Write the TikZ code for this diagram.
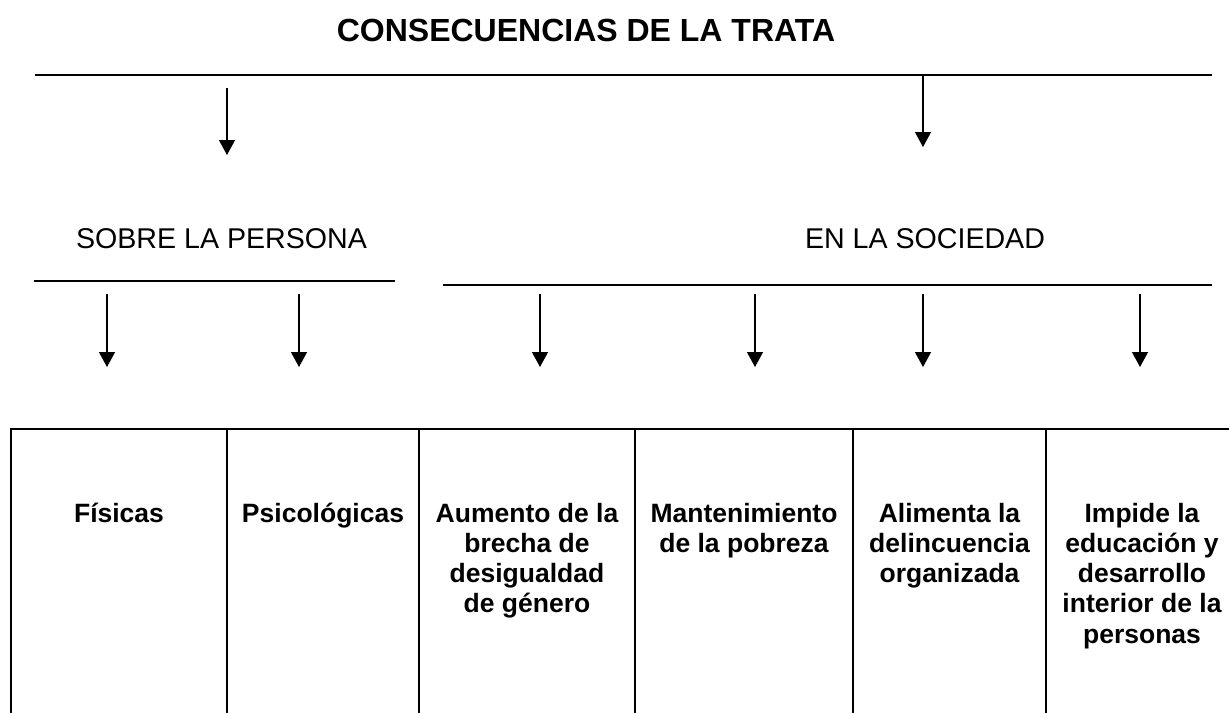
\documentclass[tikz,border=0pt]{standalone}
\usepackage{fontspec}
\setmainfont{Liberation Sans}
\usetikzlibrary{arrows.meta}
\begin{document}
\begin{tikzpicture}[x=1pt,y=-1pt,
  rule/.style={line width=2pt},
  tablerule/.style={line width=2.2pt},
  arr/.style={line width=1.3pt,-{Triangle[length=15pt,width=16pt]}},
  celltext/.style={anchor=base,inner sep=0pt,font=\fontsize{26.5}{30.3}\selectfont\bfseries},
  head/.style={anchor=base,inner sep=0pt,font=\fontsize{28.6}{33}\selectfont},
  titletext/.style={anchor=base,inner sep=0pt,font=\fontsize{32}{36}\selectfont\bfseries}]
\useasboundingbox (0,0) rectangle (1229,713);
\fill[white] (0,0) rectangle (1229,713);

% title
\node[titletext] (title) at (586,41) {CONSECUENCIAS DE LA TRATA};

% top bar
\coordinate (b1l) at (35,74.5);
\coordinate (b1r) at (1212,74.5);
\draw[rule] (b1l) -- (b1r);

% first level arrows
\coordinate (a1s) at (227,88);
\coordinate (a1e) at (227,155);
\coordinate (a2s) at (923,75);
\coordinate (a2e) at (923,147);
\draw[arr] (a1s) -- (a1e);
\draw[arr] (a2s) -- (a2e);

% headings
\node[head] (sp) at (221.5,248) {SOBRE LA PERSONA};
\node[head] (es) at (925,248) {EN LA SOCIEDAD};

% second bars
\coordinate (b2l) at (34,281);
\coordinate (b2r) at (395,281);
\coordinate (b3l) at (443,285);
\coordinate (b3r) at (1212,285);
\draw[rule] (b2l) -- (b2r);
\draw[rule] (b3l) -- (b3r);

% second level arrows
\foreach \x/\n in {107/p1,299/p2,540/p3,755/p4,923/p5,1140/p6}{
  \coordinate (\n s) at (\x,294);
  \coordinate (\n e) at (\x,367);
  \draw[arr] (\n s) -- (\n e);
}

% table
\coordinate (tl) at (10,429);
\coordinate (tr) at (1229,429);
\draw[tablerule] (tl) -- (tr);
\foreach \x/\n in {11/v1,227/v2,419/v3,635/v4,853/v5,1046/v6}{
  \coordinate (\n t) at (\x,428);
  \coordinate (\n b) at (\x,713);
  \draw[rule] (\n t) -- (\n b);
}

% cell texts
\node[celltext] (c1) at (119,522) {\begin{tabular}[t]{@{}c@{}}Físicas\end{tabular}};
\node[celltext] (c2) at (323,522) {\begin{tabular}[t]{@{}c@{}}Psicológicas\end{tabular}};
\node[celltext] (c3) at (527,522) {\begin{tabular}[t]{@{}c@{}}Aumento de la\\brecha de\\desigualdad\\de género\end{tabular}};
\node[celltext] (c4) at (744,522) {\begin{tabular}[t]{@{}c@{}}Mantenimiento\\de la pobreza\end{tabular}};
\node[celltext] (c5) at (949.5,522) {\begin{tabular}[t]{@{}c@{}}Alimenta la\\delincuencia\\organizada\end{tabular}};
\node[celltext] (c6) at (1142,522) {\begin{tabular}[t]{@{}c@{}}Impide la\\educación y\\desarrollo\\interior de la\\personas\end{tabular}};
\end{tikzpicture}
\end{document}
